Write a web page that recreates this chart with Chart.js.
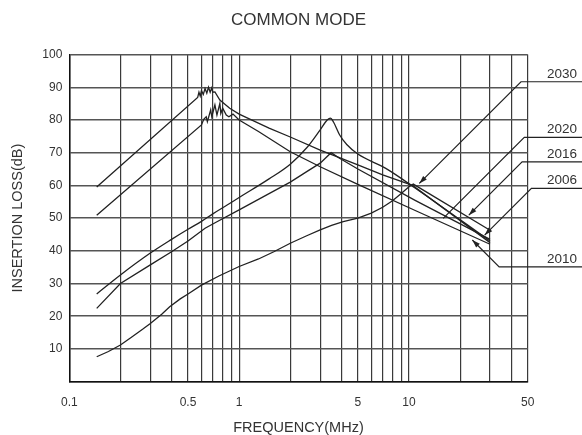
<!DOCTYPE html>
<html>
<head>
<meta charset="utf-8">
<script src="https://cdn.jsdelivr.net/npm/chart.js@4/dist/chart.umd.min.js"></script>
<style>
html,body{margin:0;padding:0;background:#fff;}
#wrap{width:582px;height:435px;position:relative;}
</style>
</head>
<body>
<div id="wrap"><canvas id="c"></canvas></div>
<script>
// ---- data ----
const gridFreqs = [0.1,0.2,0.3,0.4,0.5,0.6,0.7,0.8,0.9,1,2,3,4,5,6,7,8,9,10,20,30,40,50];
const labelFreqs = [0.1,0.5,1,5,10,50];
const lossTicks = [0,10,20,30,40,50,60,70,80,90,100];

const freqA = [0.145,0.57,0.58,0.59,0.60,0.615,0.63,0.645,0.66,0.675,0.69,0.70,0.72,0.77,0.88,1.0,1.5,2.0,3.0,5.0,7.0,10.5,30];
const lossA = [59.5,86.9,88.5,87.3,89.0,87.8,89.6,88.2,90.0,88.5,89.8,88.5,88.6,86.1,83.6,81.8,77.5,74.8,70.8,66.3,63.2,60.0,42.5];

const freqB = [0.145,0.60,0.62,0.64,0.65,0.68,0.69,0.72,0.74,0.77,0.78,0.80,0.84,0.87,0.92,1.0,1.3,2.0,3.0,5.0,10.8,30];
const lossB = [50.9,78.5,80.3,81.0,79.5,83.1,81.0,84.6,81.5,85.1,82.0,83.6,81.5,81.0,81.8,80.0,76.5,70.3,65.7,60.3,52.4,42.0];

const freqS = [0.145,0.2,0.3,0.4,0.5,0.6,0.7,0.85,1.0,1.5,2.0,2.5,3.0,3.3,3.45,3.6,3.9,4.3,5.0,7.3,10.8,30];
const lossS = [26.8,32.6,39.3,43.5,46.6,49.0,51.3,54.0,56.3,62.0,66.5,71.5,77.0,80.0,80.6,79.3,75.5,72.5,69.6,65.2,59.3,43.0];

const freqT = [0.145,0.2,0.3,0.4,0.5,0.63,0.74,1.0,1.5,2.0,2.5,3.0,3.48,3.9,5.0,10.8,30];
const lossT = [22.4,30.0,35.7,39.7,43.0,46.9,48.9,52.5,57.5,61.0,64.2,66.8,70.0,68.3,65.0,55.5,43.5];

const freqL = [0.145,0.17,0.2,0.23,0.27,0.3,0.35,0.39,0.45,0.5,0.6,0.76,1.0,1.3,1.6,2.0,2.5,3.0,3.5,4.1,5.0,6.0,7.0,8.0,9.0,10.0,10.6,30];
const lossL = [7.6,9.2,11.2,13.4,16.0,17.8,20.6,22.9,25.3,26.8,29.5,32.3,35.2,37.5,39.7,42.3,44.6,46.4,47.8,48.9,50.0,51.5,53.3,55.3,57.5,59.6,60.4,46.3];

// callouts (labels and the point each leader points to)
const calloutText = ['2030','2020','2016','2006','2010'];
const calloutFreq = [11.5,15.9,22.5,27.9,23.6];
const calloutLoss = [60.6,49.9,50.9,44.8,43.3];
const calloutLevel = [91.7,74.7,67.2,59.1,35.1];
const calloutArrow = [true,false,true,true,true];

// ---- build ----
const FONT = "'Liberation Sans', Arial, sans-serif";
const INK = '#222';
function pts(fx, ly){ return fx.map((f,i)=>({x:f,y:ly[i]})); }
function ds(fx, ly, smooth){
  return {data: pts(fx,ly), borderColor: INK, borderWidth: 1.3, pointRadius: 0,
          fill:false, tension:0, cubicInterpolationMode: smooth ? 'monotone' : 'default'};
}

const titlePlugin = {
  id:'titlePlugin',
  afterDraw(chart){
    const ctx = chart.ctx, a = chart.chartArea;
    ctx.save();
    ctx.fillStyle = '#333';
    ctx.font = "17px " + FONT;
    ctx.textAlign = 'center';
    ctx.textBaseline = 'middle';
    ctx.fillText('COMMON MODE', (a.left + a.right)/2, 20);
    ctx.restore();
  }
};

const calloutPlugin = {
  id:'calloutPlugin',
  afterDatasetsDraw(chart){
    const ctx = chart.ctx, xs = chart.scales.x, ys = chart.scales.y;
    const W = chart.width;
    ctx.save();
    ctx.strokeStyle = INK; ctx.fillStyle = INK; ctx.lineWidth = 1.2;
    calloutText.forEach((t,i)=>{
      const tx = xs.getPixelForValue(calloutFreq[i]);
      const ty = ys.getPixelForValue(calloutLoss[i]);
      const ly = ys.getPixelForValue(calloutLevel[i]);
      const ex = tx + Math.abs(ty - ly);
      ctx.beginPath();
      ctx.moveTo(W, ly); ctx.lineTo(ex, ly); ctx.lineTo(tx, ty);
      ctx.stroke();
      if (calloutArrow[i]) {
        const ang = Math.atan2(ty - ly, tx - ex);
        const L = 8, Wd = 2.6;
        ctx.beginPath();
        ctx.moveTo(tx, ty);
        ctx.lineTo(tx - L*Math.cos(ang) + Wd*Math.sin(ang), ty - L*Math.sin(ang) - Wd*Math.cos(ang));
        ctx.lineTo(tx - L*Math.cos(ang) - Wd*Math.sin(ang), ty - L*Math.sin(ang) + Wd*Math.cos(ang));
        ctx.closePath(); ctx.fill();
      }
      ctx.font = "13.5px " + FONT;
      ctx.fillStyle = '#333';
      ctx.textAlign = 'right'; ctx.textBaseline = 'alphabetic';
      ctx.fillText(t, W - 5, ly - 4);
      ctx.fillStyle = INK;
    });
    ctx.restore();
  }
};

new Chart(document.getElementById('c'), {
  type:'line',
  data:{ datasets:[ ds(freqA,lossA,false), ds(freqB,lossB,false), ds(freqS,lossS,true), ds(freqT,lossT,false), ds(freqL,lossL,false) ] },
  options:{
    responsive:true, maintainAspectRatio:false, animation:false,
    layout:{ padding:{ top:54.6, right:54.3, bottom:0, left:0 } },
    plugins:{ legend:{display:false}, tooltip:{enabled:false}, title:{display:false} },
    scales:{
      x:{
        type:'logarithmic', min:0.1, max:50, position:'bottom',
        afterBuildTicks(s){ s.ticks = gridFreqs.map(v=>({value:v})); },
        afterFit(s){ s.height = 53.4; },
        ticks:{ autoSkip:false, maxRotation:0, padding:14, color:'#333',
          font:{ size:12, family:FONT },
          callback(v){ return labelFreqs.includes(v) ? String(v) : ''; } },
        grid:{ color:'#3a3a3a', lineWidth:1.2, drawTicks:false },
        border:{ color:'#111', width:1.5 },
        title:{ display:true, text:'FREQUENCY(MHz)', color:'#333', font:{ size:14.5, family:FONT, lineHeight:1 }, padding:{top:0,bottom:0} }
      },
      y:{
        type:'linear', min:0, max:100,
        afterBuildTicks(s){ s.ticks = lossTicks.map(v=>({value:v})); },
        afterFit(s){ s.width = 69.3; },
        ticks:{ padding:7, color:'#333', font:{ size:12, family:FONT },
          callback(v){ return v === 0 ? '' : String(v); } },
        grid:{ color:'#555', lineWidth:1.5, drawTicks:false },
        border:{ color:'#111', width:1.5 },
        title:{ display:true, text:'INSERTION LOSS(dB)', color:'#333', font:{ size:14.5, family:FONT }, padding:{top:9,bottom:0} }
      }
    }
  },
  plugins:[titlePlugin, calloutPlugin]
});
</script>
</body>
</html>
